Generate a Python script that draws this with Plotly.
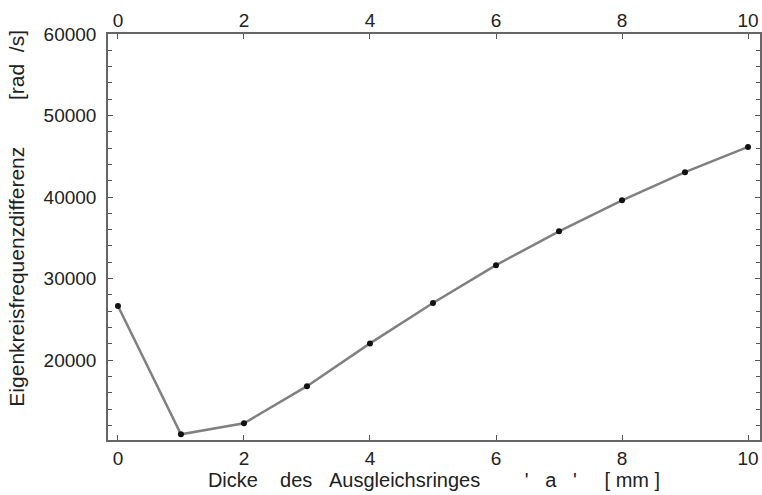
import plotly.graph_objects as go

thickness_mm = [0, 1, 2, 3, 4, 5, 6, 7, 8, 9, 10]
freq_diff = [26630, 10900, 12250, 16800, 22050, 27000, 31650, 35800, 39600, 43050, 46150]
x_ticks = [0, 2, 4, 6, 8, 10]
y_ticks = [20000, 30000, 40000, 50000, 60000]
y_ticklabels = ["20000", "30000", "40000", "50000", "60000"]

NB = "\u00a0"
tickfont = dict(family="Liberation Sans, Arial, sans-serif", size=19, color="#222222")
titlefont = dict(family="Liberation Sans, Arial, sans-serif", size=20, color="#222222")
ytitlefont = dict(family="Liberation Sans, Arial, sans-serif", size=21, color="#222222")

fig = go.Figure()
fig.add_trace(go.Scatter(
    x=thickness_mm, y=freq_diff, mode="lines+markers",
    line=dict(color="#808080", width=2.5),
    marker=dict(color="#111111", size=6),
    showlegend=False, hoverinfo="skip"))
fig.add_trace(go.Scatter(x=thickness_mm, y=freq_diff, xaxis="x2", mode="lines",
                         line=dict(width=0), opacity=0, showlegend=False, hoverinfo="skip"))

axis_common = dict(showgrid=False, zeroline=False, showline=True, linecolor="#666666",
                   linewidth=1.5, ticks="inside", ticklen=5, tickcolor="#555555",
                   tickfont=tickfont)
x_title = ("Dicke" + NB*4 + "des" + NB*3 + "Ausgleichsringes" + NB*8 + "'" + NB*3 + "a"
           + NB*3 + "'" + NB*5 + "[" + NB + "mm" + NB + "]")
fig.update_layout(
    width=762, height=495,
    margin=dict(l=108, r=0, t=34, b=55),
    paper_bgcolor="white", plot_bgcolor="white",
    font=tickfont,
    xaxis=dict(range=[-0.158, 10.19], tickvals=x_ticks, mirror=True,
               ticklabelstandoff=0,
               title=dict(text=x_title, font=titlefont, standoff=2),
               **axis_common),
    xaxis2=dict(range=[-0.158, 10.19], tickvals=x_ticks, overlaying="x", side="top",
                showgrid=False, zeroline=False, ticks="inside", ticklen=5,
                tickcolor="#555555", tickfont=tickfont, showline=False,
                ticklabelstandoff=2),
    yaxis=dict(range=[10200, 60000], tickvals=y_ticks, ticktext=y_ticklabels, mirror="ticks",
               ticklabelstandoff=6,
               minor=dict(dtick=2000, tick0=0, ticks="inside", ticklen=4, tickcolor="#555555"),
               **axis_common),
    annotations=[dict(
        text="Eigenkreisfrequenzdifferenz" + NB*8 + "[rad" + NB*2 + "/s]",
        textangle=-90, xref="paper", yref="paper", x=-0.14, y=0.547,
        xanchor="center", yanchor="middle", showarrow=False, font=ytitlefont)],
)
fig.write_html("out.html")
